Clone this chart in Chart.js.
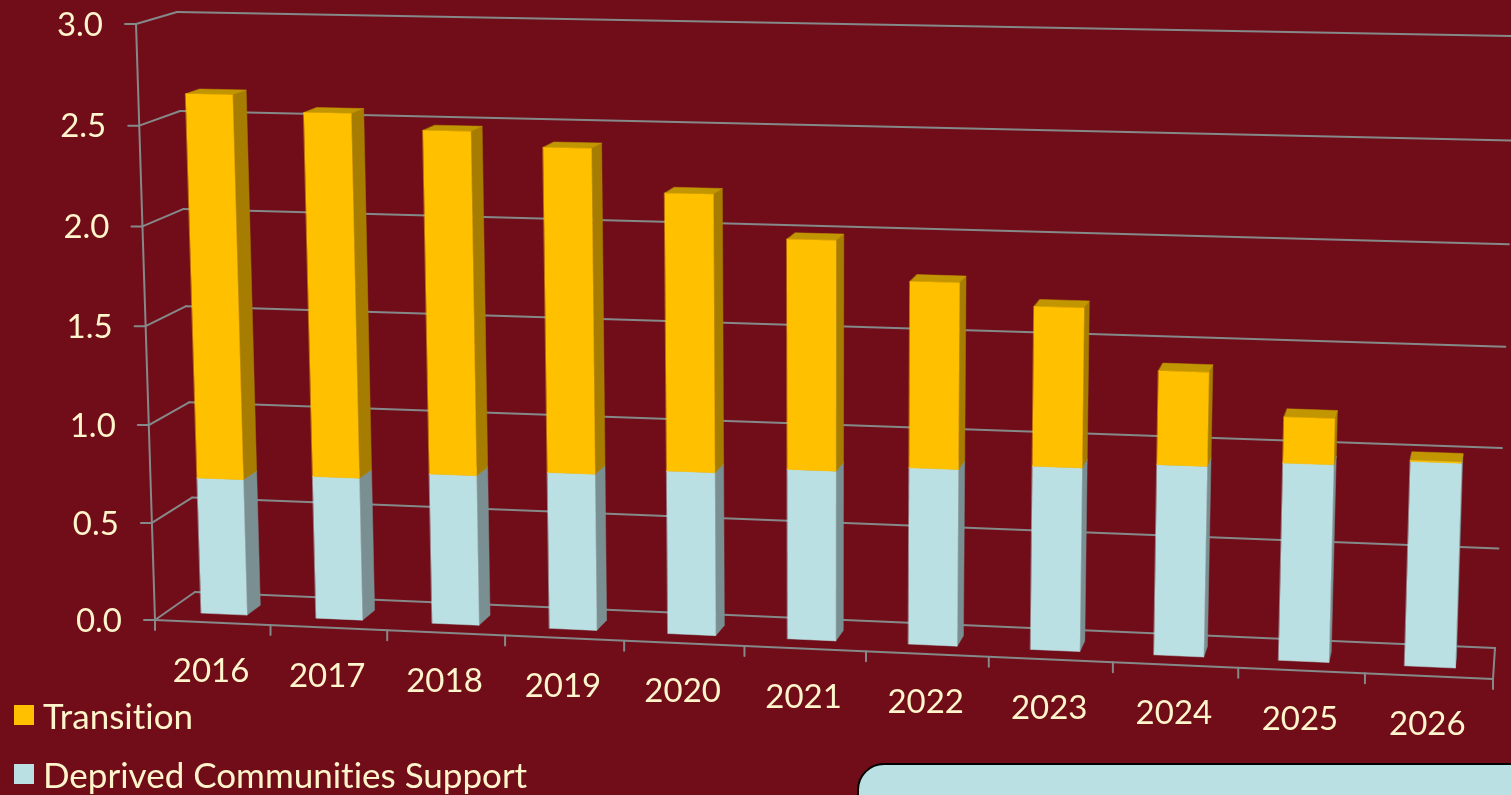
<!DOCTYPE html>
<html>
<head>
<meta charset="utf-8">
<title>Transition and Deprived Communities Support</title>
<script src="https://cdn.jsdelivr.net/npm/chart.js@4"></script>
<style>
  html, body { margin:0; padding:0; width:1511px; height:795px; overflow:hidden; background:#710d19; }
  canvas { position:absolute; left:0; top:0; }
  .key { position:absolute; left:14px; color:#fff5cc; font:35px Lato, sans-serif; font-variant-ligatures:none; line-height:40px; white-space:nowrap; padding-left:29px; }
  .key i { position:absolute; left:0; top:10px; width:20px; height:20px; }
  .note { position:absolute; left:857px; top:763px; width:800px; height:120px; box-sizing:border-box;
          background:#bae0e3; border:2px solid #000; border-radius:27px; }
</style>
</head>
<body>
<canvas id="chart" width="1511" height="795"></canvas>
<div id="keys"></div>
<div class="note"></div>
<script>
const years = ["2016","2017","2018","2019","2020","2021","2022","2023","2024","2025","2026"];
const deprivedValues = [0.70,0.73,0.765,0.795,0.825,0.855,0.885,0.915,0.945,0.975,1.005];
const transitionValues = [1.94,1.83,1.72,1.62,1.38,1.14,0.92,0.785,0.46,0.225,0.005];
const yTicks = [0,0.5,1,1.5,2,2.5,3];

const colDeprived = { front:"#bae0e3", side:"#7a8f91", top:"#95b3b6" };
const colTransition = { front:"#ffc000", side:"#a67d00", top:"#c29600" };
const gridColor = "#85898a";
const textColor = "#fff5cc";

// corners of the two upright planes of the 3D box: [left-bottom, right-bottom, right-top, left-top]
const frontPlane = [[155,620],[1493,679],[1513,49],[136,24]];
const backPlane = [[195,592],[1495,648],[1516,36],[177,12]];
const barDepth = [0.3,0.65];

function homography(q){
  const [[x0,y0],[x1,y1],[x2,y2],[x3,y3]] = q;
  const dx1=x1-x2, dx2=x3-x2, sx=x0-x1+x2-x3;
  const dy1=y1-y2, dy2=y3-y2, sy=y0-y1+y2-y3;
  const det=dx1*dy2-dx2*dy1;
  const g=(sx*dy2-dx2*sy)/det, h=(dx1*sy-sx*dy1)/det;
  const a=x1-x0+g*x1, b=x3-x0+h*x3, d=y1-y0+g*y1, e=y3-y0+h*y3;
  return (u,v) => {
    const w=g*u+h*v+1;
    return [(a*u+b*v+x0)/w,(d*u+e*v+y0)/w];
  };
}
const frontMap = homography(frontPlane);
const backMap = homography(backPlane);

function project(u,v,depth){
  const f=frontMap(u,v), b=backMap(u,v);
  return [f[0]+(b[0]-f[0])*depth, f[1]+(b[1]-f[1])*depth];
}

function poly(ctx,pts,color){
  ctx.beginPath();
  pts.forEach((p,i)=> i ? ctx.lineTo(p[0],p[1]) : ctx.moveTo(p[0],p[1]));
  ctx.closePath();
  ctx.fillStyle=color;
  ctx.fill();
  // thin stroke closes the antialiasing seams between faces
  ctx.strokeStyle=color;
  ctx.lineWidth=0.5;
  ctx.stroke();
}

function seg(ctx,a,b){
  ctx.beginPath();
  ctx.moveTo(a[0],a[1]);
  ctx.lineTo(b[0],b[1]);
  ctx.stroke();
}

const box3d = {
  id:'box3d',
  beforeDatasetsDraw(chart){
    const {ctx, chartArea:area, scales:{x,y}} = chart;
    const U = px => (px-area.left)/(area.right-area.left);
    const V = px => (area.bottom-px)/(area.bottom-area.top);

    // walls, floor and axis lines
    ctx.save();
    ctx.strokeStyle=gridColor;
    ctx.lineWidth=2;
    ctx.lineCap='round';
    yTicks.forEach(t=>{
      const v=V(y.getPixelForValue(t));
      const a=project(0,v,0), b=project(0,v,1), c=project(1,v,1);
      seg(ctx,[a[0]-11,a[1]],a);
      seg(ctx,a,b);
      seg(ctx,b,c);
    });
    seg(ctx,project(0,0,0),project(0,1,0));
    seg(ctx,project(0,0,0),project(1,0,0));
    seg(ctx,project(1,0,0),project(1,0,1));
    for(let i=0;i<=years.length;i++){
      const p=project(i/years.length,0,0);
      seg(ctx,p,[p[0],p[1]+10]);
    }

    // tick labels
    ctx.fillStyle=textColor;
    ctx.font='33px Lato, sans-serif';
    ctx.textBaseline='middle';
    ctx.textAlign='right';
    yTicks.forEach(t=>{
      const p=project(0,V(y.getPixelForValue(t)),0);
      ctx.fillText(t.toFixed(1),p[0]-33,p[1]+1);
    });
    ctx.textAlign='center';
    years.forEach((label,i)=>{
      const p=project(U(x.getPixelForValue(i)),0,0);
      ctx.fillText(label,p[0]-1.5,p[1]+48.5);
    });

    // bars, lower segment first, left to right
    const colors=[colDeprived,colTransition];
    years.forEach((label,i)=>{
      chart.data.datasets.forEach((ds,k)=>{
        const bar=chart.getDatasetMeta(k).data[i];
        const u0=U(bar.x-bar.width/2), u1=U(bar.x+bar.width/2);
        const v0=V(bar.base), v1=V(bar.y);
        const [d0,d1]=barDepth;
        const c=colors[k];
        poly(ctx,[project(u1,v0,d0),project(u1,v0,d1),project(u1,v1,d1),project(u1,v1,d0)],c.side);
        poly(ctx,[project(u0,v1,d0),project(u1,v1,d0),project(u1,v1,d1),project(u0,v1,d1)],c.top);
        poly(ctx,[project(u0,v0,d0),project(u1,v0,d0),project(u1,v1,d0),project(u0,v1,d0)],c.front);
      });
    });
    ctx.restore();
    return false;
  }
};

new Chart(document.getElementById('chart'), {
  type:'bar',
  data:{
    labels:years,
    datasets:[
      { label:'Deprived Communities Support', data:deprivedValues, backgroundColor:colDeprived.front, categoryPercentage:1, barPercentage:0.4 },
      { label:'Transition', data:transitionValues, backgroundColor:colTransition.front, categoryPercentage:1, barPercentage:0.4 }
    ]
  },
  options:{
    responsive:false,
    animation:false,
    layout:{ padding:0 },
    plugins:{ legend:{display:false}, tooltip:{enabled:false} },
    scales:{
      x:{ stacked:true, display:false },
      y:{ stacked:true, display:false, min:0, max:3 }
    }
  },
  plugins:[box3d]
});

// key sits under the axis, upper segment listed first
const keys=document.getElementById('keys');
[['Transition',colTransition.front,695],['Deprived Communities Support',colDeprived.front,754]].forEach(([name,color,top])=>{
  const div=document.createElement('div');
  div.className='key';
  div.style.top=top+'px';
  div.innerHTML=`<i style="background:${color}"></i>${name}`;
  keys.appendChild(div);
});
</script>
</body>
</html>
